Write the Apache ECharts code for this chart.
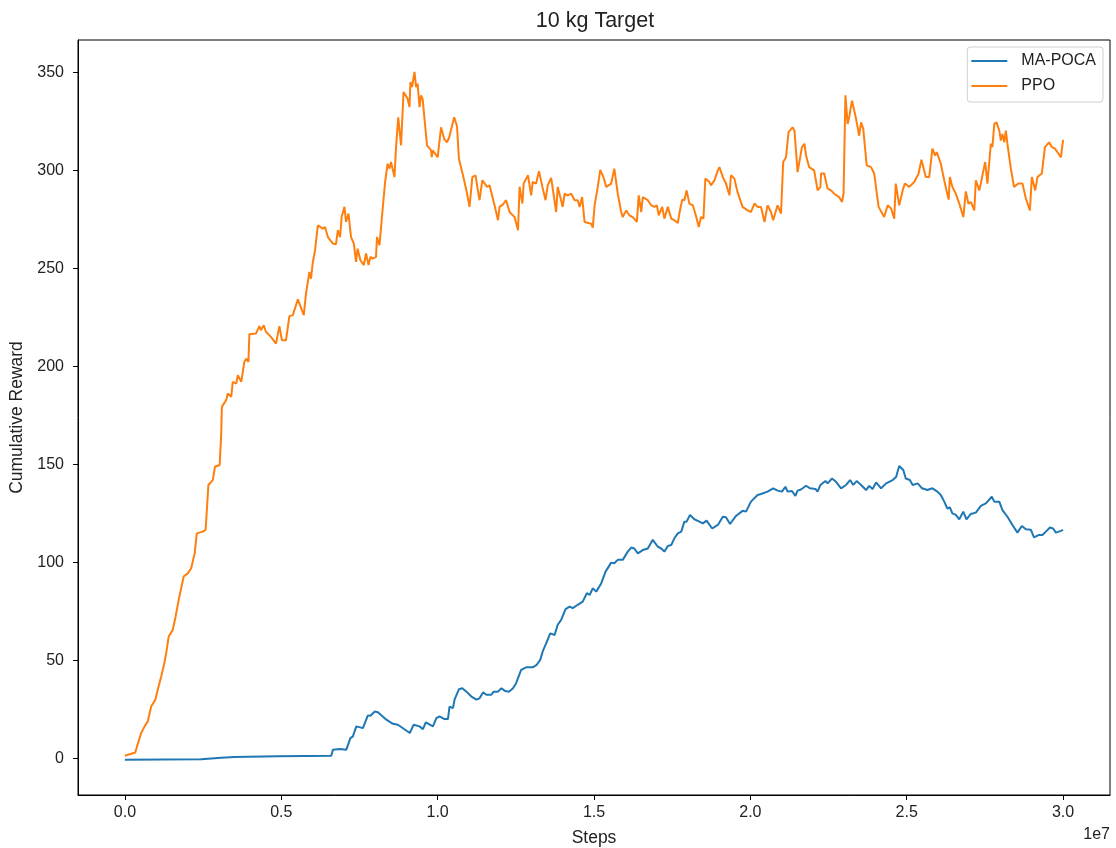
<!DOCTYPE html>
<html>
<head>
<meta charset="utf-8">
<title>10 kg Target</title>
<script src="https://cdn.jsdelivr.net/npm/echarts/dist/echarts.min.js"></script>
<style>
  html, body { margin: 0; padding: 0; background: #fff; }
  #chart { width: 1116px; height: 848px; }
</style>
</head>
<body>
<div id="chart"></div>
<script>
// Training steps are given in millions; the x axis shows them in units of 1e7.
const ppoSteps = [0.00,0.10,0.33,0.42,0.52,0.63,0.73,0.84,0.97,1.05,
  1.16,1.25,1.32,1.40,1.53,1.62,1.72,1.88,2.01,2.12,
  2.23,2.30,2.49,2.58,2.62,2.67,2.81,2.88,3.03,3.08,
  3.10,3.13,3.24,3.29,3.40,3.45,3.56,3.61,3.72,3.82,
  3.88,3.95,3.98,4.19,4.30,4.35,4.44,4.51,4.67,4.83,
  4.94,5.02,5.15,5.26,5.37,5.53,5.72,5.79,5.90,5.95,
  6.01,6.08,6.17,6.33,6.40,6.49,6.65,6.75,6.81,6.88,
  6.93,7.02,7.07,7.15,7.23,7.32,7.39,7.44,7.53,7.64,
  7.71,7.79,7.85,7.92,8.03,8.06,8.14,8.21,8.27,8.32,
  8.40,8.46,8.51,8.62,8.67,8.72,8.74,8.83,8.91,9.04,
  9.10,9.13,9.18,9.26,9.31,9.36,9.42,9.47,9.52,9.66,
  9.79,9.81,9.84,10.00,10.11,10.21,10.30,10.37,10.53,10.62,
  10.68,10.81,10.92,11.02,11.11,11.21,11.34,11.43,11.58,11.66,
  11.82,11.93,11.98,12.09,12.19,12.30,12.46,12.57,12.62,12.71,
  12.75,12.89,12.99,13.04,13.15,13.24,13.35,13.45,13.52,13.63,
  13.79,13.84,14.00,14.06,14.16,14.27,14.38,14.48,14.54,14.62,
  14.70,14.91,14.96,15.02,15.12,15.20,15.30,15.39,15.55,15.65,
  15.76,15.87,15.92,16.03,16.13,16.24,16.37,16.43,16.51,16.56,
  16.72,16.83,16.93,17.01,17.07,17.18,17.25,17.36,17.47,17.57,
  17.68,17.73,17.82,17.89,17.96,18.05,18.16,18.27,18.35,18.42,
  18.50,18.56,18.69,18.74,18.85,18.96,19.01,19.12,19.22,19.33,
  19.38,19.49,19.59,19.65,19.75,19.91,20.02,20.13,20.23,20.34,
  20.45,20.55,20.66,20.73,20.87,20.98,21.05,21.14,21.22,21.35,
  21.41,21.51,21.57,21.65,21.73,21.78,21.88,22.04,22.15,22.24,
  22.26,22.36,22.47,22.58,22.68,22.84,22.93,22.98,23.04,23.11,
  23.16,23.25,23.38,23.48,23.54,23.61,23.72,23.86,23.96,24.10,
  24.28,24.39,24.50,24.60,24.65,24.76,24.87,24.94,25.08,25.24,
  25.38,25.47,25.61,25.72,25.82,25.91,25.96,26.09,26.20,26.34,
  26.38,26.46,26.57,26.68,26.81,26.89,26.97,27.05,27.16,27.21,
  27.32,27.37,27.44,27.51,27.58,27.69,27.74,27.80,27.87,27.96,
  28.01,28.06,28.12,28.17,28.22,28.33,28.43,28.57,28.70,28.81,
  28.94,29.00,29.11,29.18,29.32,29.42,29.55,29.64,29.74,29.93,
  29.99,30.00];

const ppoReward = [1.5,2,3.2,8,13.1,16.5,19,26.6,30,35.2,
  41.9,47.9,53.8,62.3,65.7,72.4,81,92.9,94.5,97.1,
  104.7,114.9,115.8,116.7,126.8,139.6,142.1,148.9,149.8,165.9,
  179.4,180.3,182.9,186.3,184.6,192.2,191.3,195.6,192.2,202.4,
  204,202.4,216.5,216.8,220.6,218.5,221,217.7,215.1,211.7,
  220.6,213.4,213.4,225.7,226.2,234.3,226.2,237.2,248.2,244.8,
  253.3,259.3,272,270.3,271.1,266,262.7,262.4,269.5,266,
  276.2,281.4,273.7,278,266,262.7,253.3,260.1,254.2,251.7,
  257.6,251.7,255.9,255,255.9,266,261.8,274.6,275.4,294.1,
  303.4,300.9,304.3,296.6,311.9,312.8,327.1,312.8,340,336.5,
  332.3,345,342.5,350.2,342.5,344.2,332.3,338.3,336.5,312.8,
  310.2,306.7,310.2,306.7,322,316,314.3,316.9,327.1,322.5,
  305.9,297.5,289.8,281.4,296.6,297.5,284.8,295,291.6,292.4,
  282.2,274.6,281.4,282.7,284.8,278.8,276.2,269.5,291.7,283.1,
  293.3,297.5,287.3,294.1,293.3,299.6,291.6,284.8,292.4,296.2,
  278.8,291.6,281.4,288.1,287.3,288.1,284.8,284.8,281.4,286.4,
  273.7,272.8,270.8,282.2,291.6,300.3,296.6,291.6,293.3,300.9,
  288.1,278.8,276.2,279.6,277.1,276.2,273.7,287.3,278.8,286.4,
  284.8,282.2,281.4,282.2,277.1,281.4,275.4,281.4,275.4,274.6,
  273.2,278,285.1,284.8,289.8,283.1,282.2,276.2,271.1,276.2,
  275.4,295.8,294.1,292.4,294.9,300,301.7,296.6,293.3,287.3,
  297.5,295.8,288.9,289.8,281.4,279.6,278.8,283.1,281.4,281.4,
  273.7,282.2,278.8,274.6,282.2,278,304.3,306.7,319.5,322,
  320.3,299.1,300,311.9,313.6,307.6,301.7,300,289.8,291.6,
  298.4,298.4,290.7,289.8,288.1,286.4,283.9,288.1,338.3,323.7,
  327.1,335.6,326.3,317.7,324.5,321.2,302.6,301.7,298.4,281.4,
  276.2,282.2,280.6,275.4,293.3,282.2,289.8,293.3,291.6,294.1,
  298.4,305.5,296.6,296.6,311.1,307.6,309.3,303.4,294.9,285.1,
  296.6,291.6,288.1,283.1,276.2,289.3,283.1,283.9,279.6,294.9,
  289.8,293.3,299.1,304.3,293.3,313.6,311.9,323.7,324.5,320.3,
  315.2,318.6,314.3,320.3,313.6,300.9,291.6,293.3,293.3,285.7,
  279.6,296.6,289.8,296.6,298.4,311.9,314.3,311.9,311.1,306.7,
  307.6,315.6];

const pocaSteps = [0.00,2.44,3.08,3.50,4.89,6.60,6.65,6.87,7.08,7.21,
  7.29,7.40,7.61,7.77,7.85,7.99,8.09,8.36,8.57,8.73,
  9.11,9.23,9.42,9.53,9.62,9.85,9.96,10.06,10.22,10.33,
  10.38,10.49,10.54,10.68,10.79,10.92,11.08,11.24,11.34,11.45,
  11.56,11.72,11.79,11.93,12.04,12.14,12.28,12.41,12.51,12.67,
  12.83,13.04,13.17,13.28,13.36,13.47,13.60,13.74,13.84,13.95,
  14.09,14.22,14.32,14.48,14.64,14.77,14.86,14.96,15.07,15.23,
  15.37,15.55,15.65,15.76,15.92,16.08,16.19,16.29,16.40,16.56,
  16.72,16.88,17.04,17.15,17.25,17.36,17.47,17.57,17.68,17.79,
  17.89,17.96,18.07,18.21,18.37,18.48,18.60,18.78,18.96,19.12,
  19.22,19.35,19.54,19.75,19.86,20.02,20.23,20.34,20.55,20.73,
  20.87,21.01,21.12,21.19,21.33,21.44,21.51,21.62,21.78,21.91,
  22.08,22.15,22.24,22.40,22.47,22.61,22.74,22.90,23.06,23.19,
  23.29,23.40,23.54,23.70,23.80,23.91,24.02,24.18,24.34,24.55,
  24.66,24.76,24.89,24.97,25.10,25.19,25.35,25.49,25.66,25.82,
  25.98,26.09,26.20,26.30,26.38,26.46,26.57,26.68,26.81,26.91,
  27.05,27.21,27.37,27.53,27.72,27.80,27.96,28.06,28.22,28.38,
  28.54,28.68,28.81,28.97,29.07,29.23,29.34,29.45,29.58,29.68,
  29.77,29.93,30.00];

const pocaReward = [-0.5,-0.3,0.5,0.9,1.2,1.5,4.6,4.9,4.6,10.5,
  11.4,16.5,15.6,22.1,21.9,24.1,23.7,19.9,17.8,17.3,
  13.1,17.3,16.5,15.1,18.5,16.5,20.7,21.6,20.2,20.2,
  26.6,25.8,30.1,35.4,35.9,34.2,31.7,30.1,30.8,33.8,
  32.6,32.6,34.2,34.2,35.9,34.7,34.2,35.9,38.5,45.3,
  46.6,46.6,47.9,50.4,54.7,58.8,63.9,63.1,68.3,70.8,
  76.3,77.6,76.8,78.5,80.1,84.4,83.5,86.9,85.2,89.4,
  95.4,100,99.7,101.4,101.4,105.6,107.7,107.2,104.7,106.4,
  107.2,111.6,108.1,107.2,105.6,108.5,109,112.4,114.9,115.8,
  120.9,120.9,124.3,122.1,120.9,120,121.4,117.4,119.2,123.4,
  123.1,119.7,123.8,126.4,126,131.1,134.5,135,136.2,137.9,
  136.7,136.2,138.7,136.2,136.5,134,136.7,137.3,139.2,137.9,
  137.6,136.2,139.6,141.6,140.4,142.9,141.2,137.9,139.6,142.1,
  139.6,141.6,139.6,137,139.1,137.5,140.9,137.9,140.4,142.1,
  143.7,149.3,147.2,142.9,142.1,139.6,140.4,137.9,137,137.9,
  136.2,134.5,131.1,127.6,128.2,125.1,124.3,122.1,126,122.1,
  124.8,125.5,128.9,130.2,133.6,131.1,131.1,126.8,123.4,119.2,
  115.3,118.7,117,116.7,112.9,114.1,114.1,115.8,117.9,117.4,
  115.3,116.2,116.7];

const xTicks = [0, 5, 10, 15, 20, 25, 30];
const yTicks = [0, 50, 100, 150, 200, 250, 300, 350];
const seriesNames = ['MA-POCA', 'PPO'];
const seriesColors = ['#1f77b4', '#ff7f0e'];

const FONT = '"Liberation Sans", Arial, sans-serif';
const TEXT = '#222';

function zip(xs, ys) {
  const out = [];
  for (let i = 0; i < Math.min(xs.length, ys.length); i++) out.push([xs[i], ys[i]]);
  return out;
}

const chart = echarts.init(document.getElementById('chart'), null, { renderer: 'canvas' });

const axisCommon = {
  type: 'value',
  splitLine: { show: false },
  axisLine: { show: true, onZero: false, lineStyle: { color: '#000', width: 1 } },
  nameTextStyle: { color: TEXT, fontSize: 17.5, fontFamily: FONT }
};

chart.setOption({
  animation: false,
  backgroundColor: '#fff',
  grid: { left: 78, right: 6, top: 40, bottom: 53, show: true, borderColor: '#000', borderWidth: 1,
    containLabel: false, outerBoundsMode: 'none' },
  xAxis: Object.assign({}, axisCommon, {
    min: -1.5, max: 31.5,
    name: 'Steps', nameLocation: 'middle', nameGap: 34,
    axisTick: { show: true, inside: false, length: 5, customValues: xTicks, lineStyle: { color: '#000' } },
    axisLabel: { customValues: xTicks, color: TEXT, fontSize: 16, fontFamily: FONT, margin: 10,
      formatter: v => (v / 10).toFixed(1) }
  }),
  yAxis: Object.assign({}, axisCommon, {
    min: -18.5, max: 366.5,
    name: 'Cumulative Reward', nameLocation: 'middle', nameGap: 50,
    axisTick: { show: true, inside: false, length: 5, customValues: yTicks, lineStyle: { color: '#000' } },
    axisLabel: { customValues: yTicks, color: TEXT, fontSize: 16, fontFamily: FONT, margin: 14 }
  }),
  legend: {
    data: seriesNames,
    orient: 'vertical',
    right: 13, top: 47,
    icon: 'rect', itemWidth: 36, itemHeight: 2, itemGap: 9,
    padding: [6, 7, 8, 4],
    backgroundColor: 'rgba(255,255,255,0.8)',
    borderColor: '#d0d0d0', borderWidth: 1, borderRadius: 3,
    textStyle: { color: TEXT, fontSize: 16, fontFamily: FONT, padding: [0, 0, 0, 9] }
  },
  graphic: [
    { type: 'text', x: 595, y: 21, style: { text: '10 kg Target', fill: TEXT, font: '21.5px ' + FONT, textAlign: 'center', textVerticalAlign: 'middle' } },
    { type: 'text', x: 1110, y: 835, style: { text: '1e7', fill: TEXT, font: '16px ' + FONT, textAlign: 'right', textVerticalAlign: 'middle' } }
  ],
  series: [
    { name: seriesNames[0], type: 'line', data: zip(pocaSteps, pocaReward), showSymbol: false, symbol: 'none',
      color: seriesColors[0], lineStyle: { width: 2, color: seriesColors[0] }, z: 2 },
    { name: seriesNames[1], type: 'line', data: zip(ppoSteps, ppoReward), showSymbol: false, symbol: 'none',
      color: seriesColors[1], lineStyle: { width: 2, color: seriesColors[1] }, z: 3 }
  ]
});
</script>
</body>
</html>
